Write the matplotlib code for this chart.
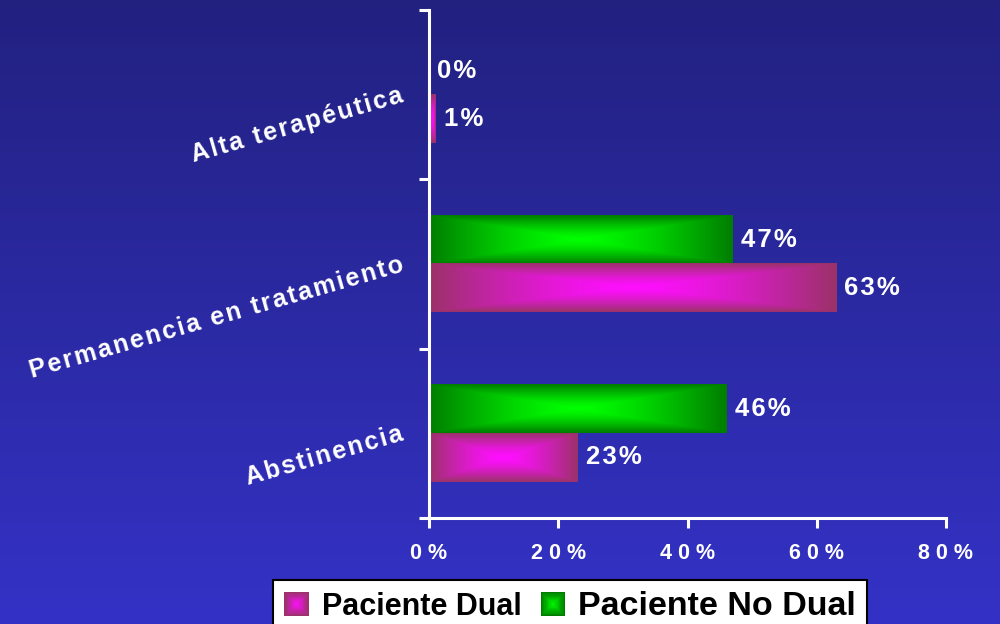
import numpy as np
import matplotlib
matplotlib.use('Agg')
import matplotlib.pyplot as plt
from matplotlib.patches import Rectangle
from matplotlib.legend_handler import HandlerBase

categories = ['Abstinencia', 'Permanencia en tratamiento', 'Alta terapéutica']
dual = [23, 63, 1]
no_dual = [46, 47, 0]
series_names = ['Paciente Dual', 'Paciente No Dual']
x_ticks = [0, 20, 40, 60, 80]

plt.rcParams['font.family'] = ['Liberation Sans', 'DejaVu Sans']
plt.rcParams['font.weight'] = 'bold'

# (centre colour, edge colour) of the box gradients
GREEN = ((0, 255, 0), (0, 125, 0))
MAGENTA = ((255, 15, 255), (155, 50, 105))
BG_TOP = (34, 33, 128)
BG_BOTTOM = (52, 50, 198)

HAIR = '\u200a'
THIN = '\u2009'


def spaced(s, gap=HAIR):
    return gap.join(s)


def box_gradient(center, edge, nx=240, ny=60, gamma=1.4):
    X, Y = np.meshgrid(np.linspace(-1, 1, nx), np.linspace(-1, 1, ny))
    t = np.maximum(np.abs(X), np.abs(Y))[..., None] ** gamma
    c = np.array(center) / 255
    e = np.array(edge) / 255
    return c + (e - c) * t


class GradientSquare(HandlerBase):
    def __init__(self, center, edge, steps=10):
        super().__init__()
        self.center = np.array(center) / 255
        self.edge = np.array(edge) / 255
        self.steps = steps

    def create_artists(self, legend, orig_handle, xdescent, ydescent,
                       width, height, fontsize, trans):
        size = min(width, height)
        x0 = -xdescent + (width - size) / 2
        y0 = -ydescent + (height - size) / 2
        arts = []
        for k in range(self.steps):
            f = 1 - k / self.steps
            s = size * f
            col = self.center + (self.edge - self.center) * f
            arts.append(Rectangle((x0 + (size - s) / 2, y0 + (size - s) / 2), s, s,
                                  facecolor=col, edgecolor='none', transform=trans))
        return arts


fig = plt.figure(figsize=(10, 6.24), dpi=100)

# background: vertical blue gradient
bg = fig.add_axes([0, 0, 1, 1], zorder=-1)
ramp = np.linspace(0, 1, 256)[:, None, None]
grad = (np.array(BG_TOP) + (np.array(BG_BOTTOM) - np.array(BG_TOP)) * ramp) / 255
bg.imshow(np.repeat(grad, 2, axis=1), aspect='auto', extent=(0, 1, 0, 1))
bg.axis('off')

ax = fig.add_axes([0.429, 0.170, 0.517, 0.814])
ax.set_facecolor('none')

y = np.arange(len(categories))
h = 0.285
bars_nd = ax.barh(y + h / 2, no_dual, height=h, color='none')
bars_d = ax.barh(y - h / 2, dual, height=h, color='none')

for bars, (c, e) in ((bars_nd, GREEN), (bars_d, MAGENTA)):
    for r in bars:
        w = r.get_width()
        if w <= 0:
            continue
        x0, y0 = r.get_x(), r.get_y()
        ax.imshow(box_gradient(c, e), extent=(x0, x0 + w, y0, y0 + r.get_height()),
                  aspect='auto', interpolation='bilinear', zorder=2)

for bars, vals in ((bars_nd, no_dual), (bars_d, dual)):
    ax.bar_label(bars, labels=[spaced(f'{v}%', HAIR) for v in vals], padding=6,
                 color='white', fontsize=18.5, fontweight='bold')

ax.set_xlim(0, 80)
ax.set_ylim(-0.5, 2.5)
ax.set_xticks(x_ticks)
ax.set_xticklabels([spaced(f'{t}%', THIN + HAIR) for t in x_ticks],
                   color='white', fontsize=15.5, fontweight='bold')
ax.set_yticks([-0.5, 0.5, 1.5, 2.5])
ax.set_yticklabels([])
ax.set_yticks(y, minor=True)
ax.set_yticklabels([spaced(c, HAIR) for c in categories], minor=True,
                   rotation=16, rotation_mode='anchor', ha='right', va='center',
                   color='white', fontsize=18, fontweight='bold')
ax.tick_params(axis='y', which='minor', length=0, pad=19)
ax.tick_params(axis='both', which='major', length=7, width=2.2, color='white',
               direction='out')
ax.tick_params(axis='x', pad=11)

for side in ('top', 'right'):
    ax.spines[side].set_visible(False)
for side in ('left', 'bottom'):
    ax.spines[side].set_color('white')
    ax.spines[side].set_linewidth(2.2)

h_dual = Rectangle((0, 0), 1, 1)
h_nd = Rectangle((0, 0), 1, 1)
leg = fig.legend([h_dual, h_nd], series_names, loc='upper left',
                 bbox_to_anchor=(0.273, 1 - 580 / 624), borderaxespad=0, ncol=2,
                 frameon=True, fancybox=False, edgecolor='black', facecolor='white',
                 framealpha=1, borderpad=0.35, columnspacing=0.6, handletextpad=0.4,
                 handlelength=0.85, handleheight=0.85,
                 prop={'weight': 'bold', 'size': 22},
                 handler_map={h_dual: GradientSquare(*MAGENTA),
                              h_nd: GradientSquare(*GREEN)})
leg.get_frame().set_linewidth(1.5)
leg.get_texts()[1].set_fontsize(24.5)

fig.savefig('out.png', dpi=100)
